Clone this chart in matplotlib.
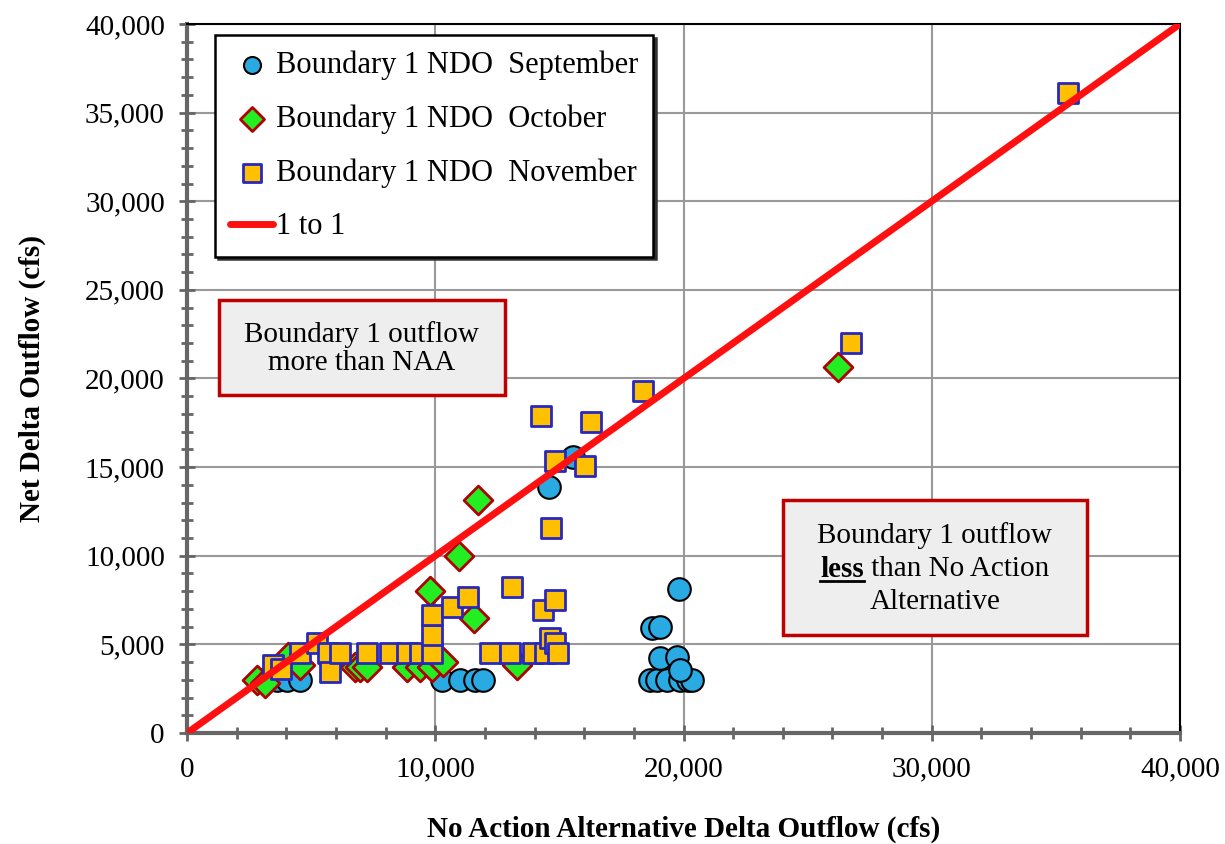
import matplotlib
matplotlib.use("Agg")
import matplotlib.pyplot as plt
from matplotlib.ticker import MultipleLocator, FuncFormatter
from matplotlib.patches import Rectangle
from matplotlib.lines import Line2D

plt.rcParams['font.family'] = ['Liberation Serif', 'DejaVu Serif']

# --- data (cfs) ---
sep_x = [2940, 3620, 4030, 4550, 10270, 11000, 11600, 11920, 14580, 15550,
         18650, 18930, 19330, 19860, 20180, 20340, 19050, 19740, 19860, 18730, 19050, 19820]
sep_y = [2990, 2990, 2990, 2990, 2990, 2990, 2990, 2990, 13870, 15570,
         2990, 2990, 2990, 2990, 2990, 2990, 4230, 4290, 3550, 5920, 5980, 8120]

oct_x = [2820, 3140, 4070, 4550, 6770, 6970, 7250, 8860, 9390, 9870, 10310,
         13290, 11560, 9790, 10960, 11720, 26220]
oct_y = [2990, 2820, 4300, 3840, 3720, 3720, 3720, 3720, 3720, 3720, 4000,
         3840, 6500, 8010, 9980, 13140, 20640]

nov_x = [3460, 3800, 4550, 5240, 5680, 5760, 6160, 7250, 8180, 8860, 9390, 9870,
         9870, 9870, 10670, 11320, 12200, 13010, 13090, 13940, 14340, 14420, 14620,
         14820, 14820, 14940, 14660, 14820, 16030, 14260, 16270, 18370, 26750, 35490]
nov_y = [3840, 3600, 4510, 5080, 4510, 3440, 4510, 4510, 4510, 4510, 4510, 4510,
         5530, 6660, 7110, 7670, 4510, 4510, 8230, 4510, 6940, 4510, 5360,
         5080, 7500, 4510, 11560, 15340, 15060, 17880, 17540, 19290, 22000, 36100]

one_to_one = [0, 40000]

fig = plt.figure(figsize=(12.25, 8.44), dpi=100)
ax = fig.add_axes([0.1527, 0.1315, 0.8106, 0.8401])

ax.scatter(sep_x, sep_y, s=265, marker='o', c='#2AAAE2', edgecolors='black',
           linewidths=1.5, zorder=3, label='Boundary 1 NDO  September')
ax.scatter(oct_x, oct_y, s=215, marker='D', c='#22EE22', edgecolors='#B00000',
           linewidths=2, zorder=4, label='Boundary 1 NDO  October')
ax.scatter(nov_x, nov_y, s=215, marker='s', c='#FFC000', edgecolors='#2828C0',
           linewidths=2, zorder=5, label='Boundary 1 NDO  November')
ax.plot(one_to_one, one_to_one, color='#FF1010', lw=5, zorder=6,
        solid_capstyle='round', label='1 to 1')

ax.set_xlim(0, 40000)
ax.set_ylim(0, 40000)
ax.xaxis.set_major_locator(MultipleLocator(10000))
ax.xaxis.set_minor_locator(MultipleLocator(2000))
ax.yaxis.set_major_locator(MultipleLocator(5000))
ax.yaxis.set_minor_locator(MultipleLocator(1000))
fmt = FuncFormatter(lambda v, p: f"{v:,.0f}")
ax.xaxis.set_major_formatter(fmt)
ax.yaxis.set_major_formatter(fmt)
ax.grid(True, which='major', color='#999999', lw=1.5, zorder=0)
ax.set_axisbelow(True)

for side in ['left', 'bottom']:
    ax.spines[side].set_color('#666666')
    ax.spines[side].set_linewidth(3)
for side in ['top', 'right']:
    ax.spines[side].set_color('black')
    ax.spines[side].set_linewidth(1.5)

ax.tick_params(which='major', direction='inout', length=12, width=2,
               color='#666666', labelsize=21, top=False, right=False)
ax.tick_params(which='minor', direction='inout', length=9, width=2,
               color='#666666', top=False, right=False)
ax.tick_params(axis='x', which='major', pad=11)
ax.tick_params(axis='y', which='major', pad=10)

ax.set_xlabel('No Action Alternative Delta Outflow (cfs)', fontsize=21,
              fontweight='bold', labelpad=24)
ax.set_ylabel('Net Delta Outflow (cfs)', fontsize=21, fontweight='bold', labelpad=28)

leg = ax.legend(loc='upper left', bbox_to_anchor=(0.028, 0.984), borderaxespad=0,
                fontsize=22, frameon=True, fancybox=False, framealpha=1,
                edgecolor='black', labelspacing=0.8, handlelength=1.4,
                handletextpad=0.1, borderpad=0.5,
                shadow={'color': '#333333', 'alpha': 1, 'ox': 2, 'oy': -2})
leg.get_frame().set_linewidth(1.8)
leg.set_zorder(10)
for h in leg.legend_handles[:3]:
    h.set_sizes([150])

# annotation boxes
box_kw = dict(transform=ax.transAxes, facecolor='#EEEEEE', edgecolor='#C00000',
              lw=2.5, zorder=9)
ax.add_patch(Rectangle((0.032, 0.477), 0.288, 0.134, **box_kw))
ax.text(0.176, 0.542, 'Boundary 1 outflow\nmore than NAA', transform=ax.transAxes,
        ha='center', va='center', fontsize=21, linespacing=1.1, zorder=10)

ax.add_patch(Rectangle((0.600, 0.138), 0.306, 0.191, **box_kw))
cx = 0.753
ax.text(cx, 0.279, 'Boundary 1 outflow', transform=ax.transAxes, ha='center',
        va='center', fontsize=21, zorder=10)
ax.text(cx, 0.185, 'Alternative', transform=ax.transAxes, ha='center',
        va='center', fontsize=21, zorder=10)
t_bold = ax.text(0, 0.231, 'less', transform=ax.transAxes, ha='left', va='center',
                 fontsize=21, fontweight='bold', zorder=10)
t_rest = ax.text(0, 0.231, ' than No Action', transform=ax.transAxes, ha='left',
                 va='center', fontsize=21, zorder=10)
fig.canvas.draw()
r = fig.canvas.get_renderer()
inv = ax.transAxes.inverted()
wb = t_bold.get_window_extent(r).width
wr = t_rest.get_window_extent(r).width
cpx = ax.transAxes.transform((cx, 0.231))
start = cpx[0] - (wb + wr) / 2
t_bold.set_x(inv.transform((start, cpx[1]))[0])
t_rest.set_x(inv.transform((start + wb, cpx[1]))[0])
fig.canvas.draw()
bb = t_bold.get_window_extent(r)
y_ul = bb.y0 + 2
p0 = inv.transform((bb.x0, y_ul))
p1 = inv.transform((bb.x1, y_ul))
ax.add_line(Line2D([p0[0], p1[0]], [p0[1], p1[1]], transform=ax.transAxes,
                   color='black', lw=2, zorder=10))

fig.savefig('out.png', dpi=100)
